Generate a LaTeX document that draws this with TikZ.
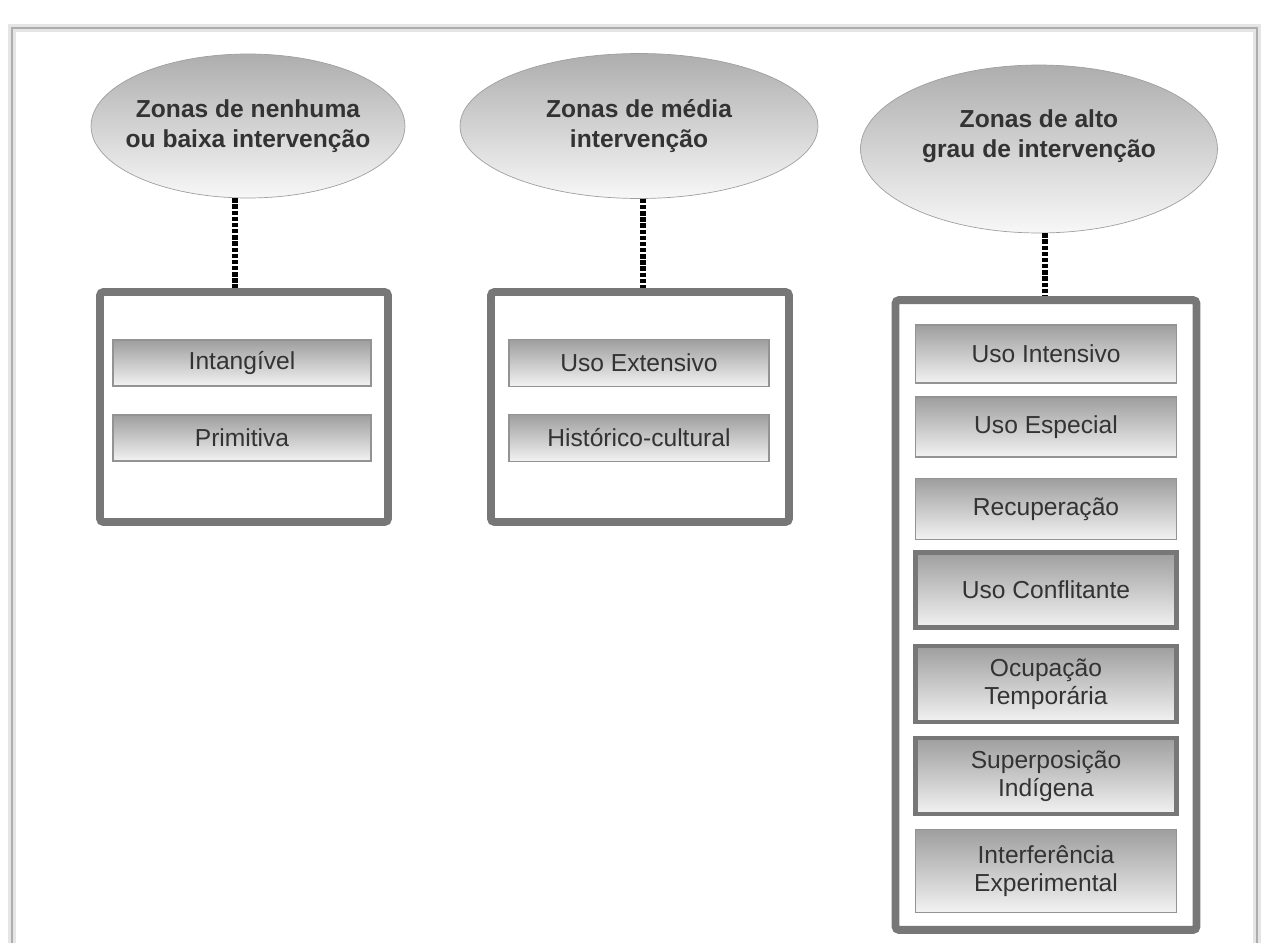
\documentclass[tikz,border=0pt]{standalone}
\usepackage{fontspec}
\setmainfont{Liberation Sans}
\usetikzlibrary{shapes.geometric}
\definecolor{framegray}{HTML}{777777}
\definecolor{textgray}{HTML}{333333}
\tikzset{
    zone-ellipse/.style = {ellipse, draw=gray!75, thin, top color=black!32, bottom color=black!3, text=textgray, font=\bfseries\fontsize{14}{17}\selectfont, align=center, inner xsep=-0.25cm, inner ysep=0pt},
    zone-frame/.style = {draw=framegray, line width=4.5pt, rounded corners=2pt, fill=white, inner sep=0pt},
    zone-item/.style = {draw=gray!85, line width=1pt, top color=black!38, bottom color=black!5, text=textgray, font=\fontsize{14}{16}\selectfont, align=center, inner sep=0pt},
    zone-item-thick/.style = {zone-item, draw=framegray, line width=2.5pt},
    zone-link/.style = {black, line width=3pt, dash pattern=on 2.5pt off 1pt},
}

\begin{document}
\begin{tikzpicture}[x=0.02cm, y=-0.02cm]
\useasboundingbox (0,0) rectangle (1264,943);
% page frame
\draw[black!10, line width=5pt] (12,943) -- (12,28) -- (1257,28) -- (1257,943);
\draw[black!32, line width=1.3pt] (12,943) -- (12,28) -- (1257,28) -- (1257,943);

% zone headers
\node[zone-ellipse, minimum width=6.28cm, minimum height=2.88cm] (zone1) at (248,126) {Zonas de nenhuma\\ou baixa intervenção};
\node[zone-ellipse, minimum width=7.16cm, minimum height=2.9cm] (zone2) at (639,126) {Zonas de média\\intervenção};
\node[zone-ellipse, minimum width=7.14cm, minimum height=3.36cm, text depth=0.6cm] (zone3) at (1039,149) {Zonas de alto\\grau de intervenção};

% frames
\node[zone-frame, minimum width=5.76cm, minimum height=4.6cm] (frame1) at (244,407) {};
\node[zone-frame, minimum width=5.96cm, minimum height=4.6cm] (frame2) at (640,407) {};
\node[zone-frame, minimum width=6.02cm, minimum height=12.6cm] (frame3) at (1046,615) {};

% connectors
\draw[zone-link] ([xshift=-0.26cm]zone1.south) -- ([xshift=-0.26cm]zone1.south |- frame1.north);
\draw[zone-link] ([xshift=0.08cm]zone2.south) -- ([xshift=0.08cm]zone2.south |- frame2.north);
\draw[zone-link] ([xshift=0.12cm]zone3.south) -- ([xshift=0.12cm]zone3.south |- frame3.north);

% low intervention
\node[zone-item, minimum width=5.16cm, minimum height=0.92cm] (intangivel) at (242,363) {Intangível};
\node[zone-item, minimum width=5.16cm, minimum height=0.92cm] (primitiva) at (242,438) {Primitiva};

% medium intervention
\node[zone-item, minimum width=5.2cm, minimum height=0.94cm] (extensivo) at (639,363) {Uso Extensivo};
\node[zone-item, minimum width=5.2cm, minimum height=0.94cm] (historico) at (639,438) {Histórico-cultural};

% high intervention
\node[zone-item, minimum width=5.22cm, minimum height=1.16cm] (intensivo) at (1046,354) {Uso Intensivo};
\node[zone-item, minimum width=5.22cm, minimum height=1.2cm] (especial) at (1046,427) {Uso Especial};
\node[zone-item, minimum width=5.22cm, minimum height=1.22cm] (recuperacao) at (1046,509) {Recuperação};
\node[zone-item-thick, minimum width=5.22cm, minimum height=1.5cm] (conflitante) at (1046,590) {Uso Conflitante};
\node[zone-item-thick, minimum width=5.22cm, minimum height=1.52cm] (temporaria) at (1046,684) {Ocupação\\Temporária};
\node[zone-item-thick, minimum width=5.22cm, minimum height=1.52cm] (indigena) at (1046,776) {Superposição\\Indígena};
\node[zone-item, minimum width=5.22cm, minimum height=1.66cm] (experimental) at (1046,871) {Interferência\\Experimental};
\end{tikzpicture}
\end{document}
